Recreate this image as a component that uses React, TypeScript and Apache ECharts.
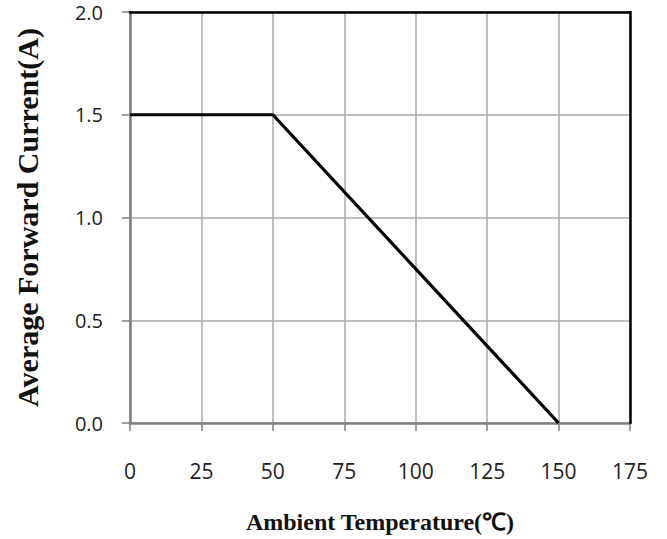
import React, { useEffect, useRef } from "react";
import * as echarts from "echarts";

const xTicks = [0, 25, 50, 75, 100, 125, 150, 175];
const yTicks = [0, 0.5, 1.0, 1.5, 2.0];
const temperature = [0, 50, 150];
const current = [1.5, 1.5, 0];
const xTitle = "Ambient Temperature(℃)";
const yTitle = "Average Forward Current(A)";

export default function App() {
  const ref = useRef<HTMLDivElement>(null);
  useEffect(() => {
    if (!ref.current) return;
    const chart = echarts.init(ref.current, undefined, { renderer: "svg" });
    const data = temperature.map((t, i) => [t, current[i]]);
    const xMin = xTicks[0];
    const xMax = xTicks[xTicks.length - 1];
    const yMin = yTicks[0];
    const yMax = yTicks[yTicks.length - 1];
    const frameAxis = {
      axisLine: { show: true, onZero: false, lineStyle: { color: "#000000", width: 2.5 } },
      axisTick: { show: false },
      axisLabel: { show: false },
      splitLine: { show: false },
      z: 3,
    };
    chart.setOption({
      animation: false,
      backgroundColor: "#ffffff",
      grid: {
        left: 130,
        right: 37,
        top: 12,
        bottom: 110,
      },
      xAxis: [
        {
          type: "value",
          min: xMin,
          max: xMax,
          interval: 25,
          name: xTitle,
          nameLocation: "middle",
          nameGap: 87,
          nameTextStyle: {
            fontFamily: "Liberation Serif",
            fontWeight: "bold",
            fontSize: 24,
            color: "#111",
          },
          axisLine: { show: true, onZero: false, lineStyle: { color: "#7f7f7f", width: 2.5 } },
          axisTick: { show: true, inside: false, length: 8, lineStyle: { color: "#7f7f7f", width: 1.5 } },
          axisLabel: {
            margin: 37,
            fontFamily: "Open Sans",
            fontSize: 21,
            color: "#222",
            formatter: (v: number) => String(v),
          },
          splitLine: { show: true, lineStyle: { color: "#aaaaaa", width: 1.5 } },
          z: 2,
        },
        { type: "value", position: "top", min: xMin, max: xMax, ...frameAxis },
      ],
      yAxis: [
        {
          type: "value",
          min: yMin,
          max: yMax,
          interval: 0.5,
          name: yTitle,
          nameLocation: "middle",
          nameGap: 88,
          nameTextStyle: {
            fontFamily: "Liberation Serif",
            fontWeight: "bold",
            fontSize: 30,
            color: "#111",
          },
          axisLine: { show: true, onZero: false, lineStyle: { color: "#7f7f7f", width: 2.5 } },
          axisTick: { show: true, inside: false, length: 8, lineStyle: { color: "#7f7f7f", width: 1.5 } },
          axisLabel: {
            margin: 27,
            fontFamily: "Open Sans",
            fontSize: 20,
            color: "#222",
            formatter: (v: number) => v.toFixed(1),
          },
          splitLine: { show: true, lineStyle: { color: "#aaaaaa", width: 1.5 } },
          z: 2,
        },
        { type: "value", position: "right", min: yMin, max: yMax, ...frameAxis },
      ],
      series: [
        {
          type: "line",
          data,
          showSymbol: false,
          symbol: "none",
          lineStyle: { color: "#000000", width: 3.2 },
          z: 5,
        },
      ],
    });
    return () => chart.dispose();
  }, []);
  return (
    <div
      ref={ref}
      style={{ position: "absolute", left: 0, top: 0, width: 667, height: 539 }}
    />
  );
}
